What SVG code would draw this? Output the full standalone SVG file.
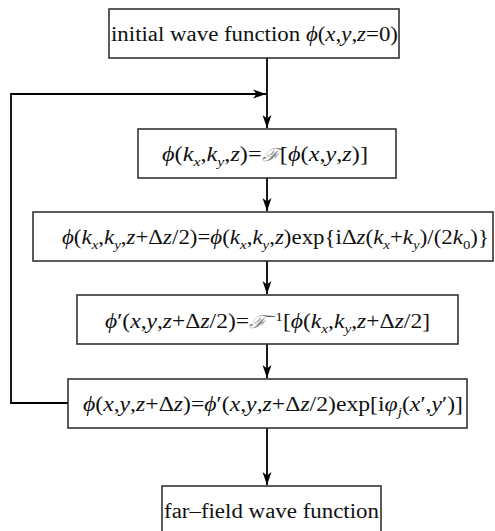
<svg xmlns="http://www.w3.org/2000/svg" width="495" height="531" viewBox="0 0 495 531">
<defs>
<style>
.box{fill:#fff;stroke:#333;stroke-width:1.6}
.ln{fill:none;stroke:#000;stroke-width:1.8}
text{font-family:'Liberation Serif','DejaVu Serif',serif;font-size:20px;fill:#111}
.i{font-style:italic}
.s{font-size:13px;font-style:italic}
.f{font-family:'DejaVu Serif',serif;font-style:italic;fill:#888;font-size:18px}
</style>
<marker id="ah" markerUnits="userSpaceOnUse" markerWidth="14" markerHeight="10" refX="13" refY="5" orient="auto">
<path d="M0,0.5 L13,5 L0,9.5 L3.5,5 Z" fill="#000"/>
</marker>
</defs>
<g id="connectors">
<line class="ln" x1="267" y1="58" x2="267" y2="128" marker-end="url(#ah)"/>
<polyline class="ln" points="68,403 11,403 11,94 266,94" marker-end="url(#ah)"/>
<line class="ln" x1="267" y1="178" x2="267" y2="211" marker-end="url(#ah)"/>
<line class="ln" x1="267" y1="261" x2="267" y2="294" marker-end="url(#ah)"/>
<line class="ln" x1="267" y1="344" x2="267" y2="378" marker-end="url(#ah)"/>
<line class="ln" x1="267" y1="428" x2="267" y2="485" marker-end="url(#ah)"/>
</g>
<g id="n1">
<rect class="box" x="109" y="9" width="290" height="49"/>
<text x="111" y="41" textLength="287" lengthAdjust="spacingAndGlyphs">initial wave function <tspan class="i">ϕ</tspan>(<tspan class="i">x</tspan>,<tspan class="i">y</tspan>,<tspan class="i">z</tspan>=0)</text>
</g>
<g id="n2">
<rect class="box" x="138" y="129" width="258" height="49"/>
<text x="162" y="161" textLength="206" lengthAdjust="spacingAndGlyphs"><tspan class="i">ϕ</tspan>(<tspan class="i">k</tspan><tspan class="s" dy="5">x</tspan><tspan dy="-5">,</tspan><tspan class="i">k</tspan><tspan class="s" dy="5">y</tspan><tspan dy="-5">,</tspan><tspan class="i">z</tspan>)=<tspan class="f">ℱ</tspan>[<tspan class="i">ϕ</tspan>(<tspan class="i">x</tspan>,<tspan class="i">y</tspan>,<tspan class="i">z</tspan>)]</text>
</g>
<g id="n3">
<rect class="box" x="33" y="212" width="460" height="49"/>
<text x="62" y="244" textLength="427" lengthAdjust="spacingAndGlyphs"><tspan class="i">ϕ</tspan>(<tspan class="i">k</tspan><tspan class="s" dy="5">x</tspan><tspan dy="-5">,</tspan><tspan class="i">k</tspan><tspan class="s" dy="5">y</tspan><tspan dy="-5">,</tspan><tspan class="i">z</tspan>+Δ<tspan class="i">z</tspan>/2)=<tspan class="i">ϕ</tspan>(<tspan class="i">k</tspan><tspan class="s" dy="5">x</tspan><tspan dy="-5">,</tspan><tspan class="i">k</tspan><tspan class="s" dy="5">y</tspan><tspan dy="-5">,</tspan><tspan class="i">z</tspan>)exp{iΔ<tspan class="i">z</tspan>(<tspan class="i">k</tspan><tspan class="s" dy="5">x</tspan><tspan dy="-5">+</tspan><tspan class="i">k</tspan><tspan class="s" dy="5">y</tspan><tspan dy="-5">)/(2</tspan><tspan class="i">k</tspan><tspan class="s" dy="5" font-style="normal" style="font-style:normal">0</tspan><tspan dy="-5">)}</tspan></text>
</g>
<g id="n4">
<rect class="box" x="77" y="295" width="381" height="49"/>
<text x="105" y="328" textLength="325" lengthAdjust="spacingAndGlyphs"><tspan class="i">ϕ</tspan>′(<tspan class="i">x</tspan>,<tspan class="i">y</tspan>,<tspan class="i">z</tspan>+Δ<tspan class="i">z</tspan>/2)=<tspan class="f">ℱ</tspan><tspan font-size="13" style="font-size:13px" dy="-7">−1</tspan><tspan dy="7">[</tspan><tspan class="i">ϕ</tspan>(<tspan class="i">k</tspan><tspan class="s" dy="5">x</tspan><tspan dy="-5">,</tspan><tspan class="i">k</tspan><tspan class="s" dy="5">y</tspan><tspan dy="-5">,</tspan><tspan class="i">z</tspan>+Δ<tspan class="i">z</tspan>/2]</text>
</g>
<g id="n5">
<rect class="box" x="68" y="379" width="399" height="49"/>
<text x="83" y="411" textLength="380" lengthAdjust="spacingAndGlyphs"><tspan class="i">ϕ</tspan>(<tspan class="i">x</tspan>,<tspan class="i">y</tspan>,<tspan class="i">z</tspan>+Δ<tspan class="i">z</tspan>)=<tspan class="i">ϕ</tspan>′(<tspan class="i">x</tspan>,<tspan class="i">y</tspan>,<tspan class="i">z</tspan>+Δ<tspan class="i">z</tspan>/2)exp[i<tspan class="i">φ</tspan><tspan class="s" dy="5">j</tspan><tspan dy="-5">(</tspan><tspan class="i">x</tspan>′,<tspan class="i">y</tspan>′)]</text>
</g>
<g id="n6">
<rect class="box" x="162" y="486" width="219" height="60"/>
<text x="164" y="518" textLength="215" lengthAdjust="spacingAndGlyphs">far–field wave function</text>
</g>
</svg>
